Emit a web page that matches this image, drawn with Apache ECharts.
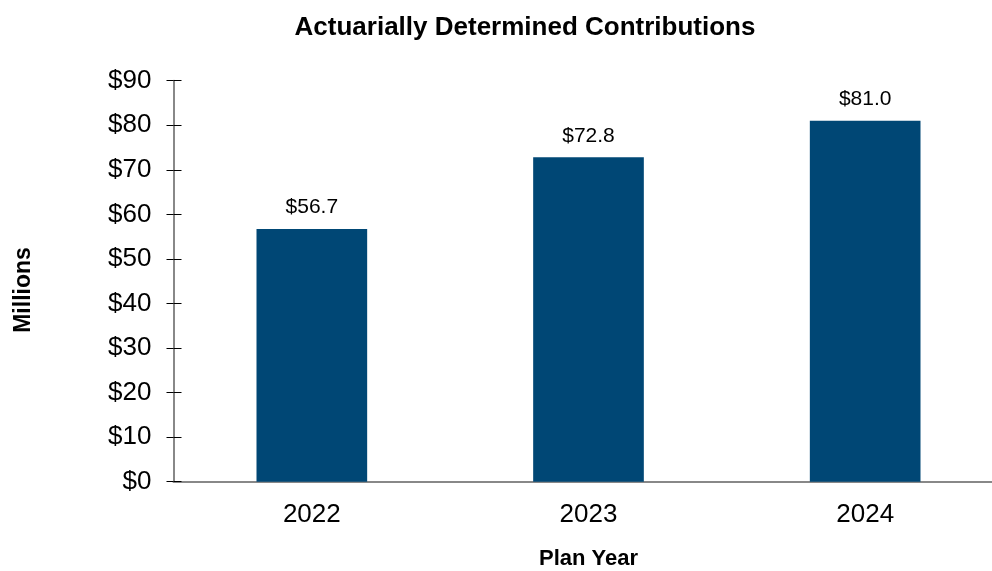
<!DOCTYPE html>
<html><head><meta charset="utf-8">
<script src="https://cdn.jsdelivr.net/npm/echarts@6/dist/echarts.min.js"></script>
<style>html,body{margin:0;padding:0;background:#fff}#c{width:992px;height:571px}</style>
</head><body><div id="c"></div>
<script>
const categories = ['2022', '2023', '2024'];
const values = [56.7, 72.8, 81.0];
const yTicks = [0, 10, 20, 30, 40, 50, 60, 70, 80, 90];
const titleText = 'Actuarially Determined Contributions';
const yName = 'Millions';
const xName = 'Plan Year';

const font = '"Liberation Sans", Arial, sans-serif';
const chart = echarts.init(document.getElementById('c'));
chart.setOption({
  animation: false,
  backgroundColor: '#fff',
  title: {
    text: titleText, left: 520, top: 10, textAlign: 'center',
    textStyle: { fontFamily: font, fontSize: 26, fontWeight: 'bold', color: '#000' }
  },
  graphic: [
    { type: 'text', x: 24, y: 290, rotation: Math.PI / 2,
      style: { text: yName, font: 'bold 23px ' + font, fill: '#000', textAlign: 'center', textVerticalAlign: 'middle' } }
  ],
  grid: { left: 173.5, top: 80.7, width: 830, bottom: 89.3, containLabel: false, outerBoundsMode: 'none' },
  xAxis: {
    type: 'category', data: categories,
    name: xName, nameLocation: 'middle', nameGap: 66,
    nameTextStyle: { fontFamily: font, fontSize: 22, fontWeight: 'bold', color: '#000' },
    axisLine: { lineStyle: { color: '#888', width: 2 } },
    axisTick: { show: false },
    axisLabel: { fontFamily: font, fontSize: 26, color: '#000', margin: 20 }
  },
  yAxis: [{
    type: 'value', min: yTicks[0], max: yTicks[yTicks.length - 1], interval: 10,
    splitLine: { show: false },
    axisLine: { show: true, lineStyle: { color: '#888', width: 2 } },
    axisTick: { show: true, length: 7, lineStyle: { color: '#000', width: 1 } },
    axisLabel: { fontFamily: font, fontSize: 26, color: '#000', margin: 22, formatter: v => '$' + v }
  }, {
    type: 'value', min: yTicks[0], max: yTicks[yTicks.length - 1], interval: 10,
    position: 'left',
    splitLine: { show: false },
    axisLine: { show: false, onZero: false },
    axisTick: { show: true, inside: true, length: 8, lineStyle: { color: '#000', width: 1 } },
    axisLabel: { show: false }
  }],
  series: [{
    type: 'bar', data: values, barWidth: '40%',
    itemStyle: { color: '#004775' },
    label: { show: true, position: 'top', distance: 11, fontFamily: font, fontSize: 21, color: '#000',
      formatter: p => '$' + p.value.toFixed(1) }
  }]
});
</script></body></html>
